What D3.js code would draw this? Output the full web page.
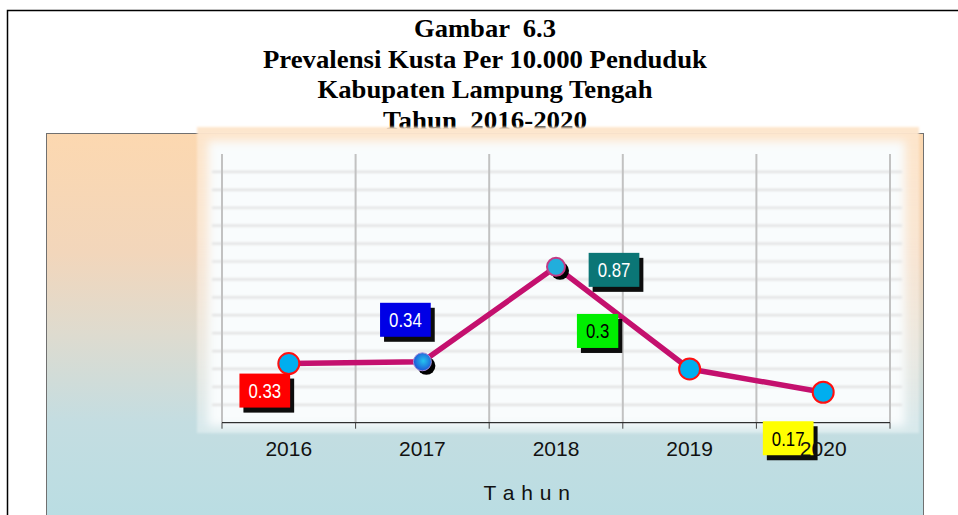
<!DOCTYPE html>
<html>
<head>
<meta charset="utf-8">
<script src="https://cdn.jsdelivr.net/npm/d3@7"></script>
<style>
  html, body { margin: 0; padding: 0; background: #fff; }
  svg { display: block; }
</style>
</head>
<body>
<svg id="chart" width="958" height="515"></svg>
<script>
// Prevalence of leprosy per 10,000 population, Lampung Tengah, 2016-2020
const years = ['2016', '2017', '2018', '2019', '2020'];
const prevalence = [0.33, 0.34, 0.87, 0.30, 0.17];
const valueLabels = ['0.33', '0.34', '0.87', '0.3', '0.17'];
const titleLines = [
  'Gambar  6.3',
  'Prevalensi Kusta Per 10.000 Penduduk',
  'Kabupaten Lampung Tengah',
  'Tahun  2016-2020'
];
const axisTitle = 'T a h u n';

// label box colours and where each box sits relative to its point
const labelFill = ['#ff0000', '#0000e6', '#0b7676', '#00ee00', '#ffff00'];
const labelInk = ['#ffffff', '#ffffff', '#ffffff', '#000000', '#000000'];
const labelShift = [[-24, 27], [-17, -42], [58, 3], [-92, -38], [-35, 46]];
const markerKind = ['plain', 'sphere', 'ringed', 'plain', 'plain'];

const svg = d3.select('#chart');
const defs = svg.append('defs');

const bg = defs.append('linearGradient').attr('id', 'areaFill')
  .attr('x1', 0).attr('y1', 0).attr('x2', 0).attr('y2', 1);
[[0, '#fcd8b0'], [0.3, '#f2d6bb'], [0.5, '#dedbcf'], [0.72, '#c4dde1'], [1, '#b8dde3']]
  .forEach(([o, c]) => bg.append('stop').attr('offset', o).attr('stop-color', c));

const glow = defs.append('linearGradient').attr('id', 'glowFill')
  .attr('x1', 0).attr('y1', 0).attr('x2', 0).attr('y2', 1);
glow.append('stop').attr('offset', 0).attr('stop-color', '#fde5cb').attr('stop-opacity', 0.97);
glow.append('stop').attr('offset', 0.5).attr('stop-color', '#fbefe4').attr('stop-opacity', 0.6);
glow.append('stop').attr('offset', 1).attr('stop-color', '#ffffff').attr('stop-opacity', 0.35);

const sphere = defs.append('radialGradient').attr('id', 'sphereFill')
  .attr('cx', '55%').attr('cy', '45%').attr('r', '60%');
sphere.append('stop').attr('offset', 0).attr('stop-color', '#25c4ee');
sphere.append('stop').attr('offset', 1).attr('stop-color', '#1d4ed6');

function blur(id, sd) {
  defs.append('filter').attr('id', id)
    .attr('x', '-20%').attr('y', '-20%').attr('width', '140%').attr('height', '140%')
    .append('feGaussianBlur').attr('stdDeviation', sd);
}
blur('soft', 5);
blur('glowBlur', 0.8);
blur('gridBlur', 1.1);
blur('shadowBlur', 0.6);

// outer frame
svg.append('path')
  .attr('d', 'M7.5,515V10.5H958')
  .attr('fill', 'none').attr('stroke', '#000').attr('stroke-width', 1.5);

// title
const titleWidths = [142, 444, 335, 204];
svg.append('g').selectAll('text').data(titleLines).join('text')
  .attr('x', 485)
  .attr('y', (d, i) => 37 + i * 30.5)
  .attr('text-anchor', 'middle')
  .attr('font-family', '"Liberation Serif", "Times New Roman", serif')
  .attr('font-weight', 'bold')
  .attr('font-size', 26)
  .style('white-space', 'pre')
  .attr('xml:space', 'preserve')
  .attr('textLength', (d, i) => titleWidths[i])
  .attr('lengthAdjust', 'spacingAndGlyphs')
  .text(d => d);

// chart area
svg.append('rect')
  .attr('x', 46.5).attr('y', 133.5).attr('width', 877).attr('height', 400)
  .attr('fill', 'url(#areaFill)').attr('stroke', '#707070').attr('stroke-width', 1);

svg.append('rect')
  .attr('x', 197).attr('y', 127).attr('width', 722).attr('height', 306)
  .attr('fill', 'url(#glowFill)').attr('filter', 'url(#glowBlur)');

svg.append('rect')
  .attr('x', 208).attr('y', 141).attr('width', 697).attr('height', 285)
  .attr('fill', '#f9fcfd').attr('filter', 'url(#soft)');

// scales
const x = d3.scaleBand().domain(years).range([222, 890]).padding(0);
const y = d3.scaleLinear().domain([0, 1.5]).range([422.7, 154]);
const cx = d => x(d) + x.bandwidth() / 2;

// horizontal grid
svg.append('g').attr('filter', 'url(#gridBlur)')
  .selectAll('line').data(y.ticks(15).filter(v => v > 0 && v < 1.5)).join('line')
  .attr('x1', 212).attr('x2', 902)
  .attr('y1', d => y(d)).attr('y2', d => y(d))
  .attr('stroke', '#e1e1e1').attr('stroke-width', 2.2);

// vertical grid at category boundaries
const bounds = years.map(d => x(d)).concat([x.range()[1]]);
svg.append('g').selectAll('line').data(bounds).join('line')
  .attr('x1', d => d).attr('x2', d => d)
  .attr('y1', y(1.5)).attr('y2', y(0))
  .attr('stroke', '#c2c2c2').attr('stroke-width', 2);

// x axis line and boundary ticks
svg.append('line')
  .attr('x1', x.range()[0]).attr('x2', x.range()[1])
  .attr('y1', y(0)).attr('y2', y(0))
  .attr('stroke', '#000').attr('stroke-width', 1);
svg.append('g').selectAll('line').data(bounds).join('line')
  .attr('x1', d => d).attr('x2', d => d)
  .attr('y1', y(0)).attr('y2', y(0) + 6)
  .attr('stroke', '#444').attr('stroke-width', 1);

// series line
const pts = years.map((d, i) => [cx(d), y(prevalence[i])]);
svg.append('path')
  .attr('d', d3.line()(pts))
  .attr('fill', 'none').attr('stroke', '#c4106e').attr('stroke-width', 5.5)
  .attr('stroke-linejoin', 'round');

// markers
const mk = svg.append('g');
pts.forEach(([px, py], i) => {
  const kind = markerKind[i];
  if (kind === 'plain') {
    mk.append('circle').attr('cx', px).attr('cy', py).attr('r', 10.5)
      .attr('fill', '#00aeef').attr('stroke', '#ff1010').attr('stroke-width', 2);
  } else {
    mk.append('circle').attr('cx', px + 4).attr('cy', py + 4).attr('r', 9)
      .attr('fill', '#000');
    mk.append('circle').attr('cx', px).attr('cy', py).attr('r', 9)
      .attr('fill', kind === 'sphere' ? 'url(#sphereFill)' : '#22aedc')
      .attr('stroke', kind === 'sphere' ? '#a38cd8' : '#c23b86')
      .attr('stroke-width', kind === 'sphere' ? 1 : 2);
  }
});

// value label boxes
const lb = svg.append('g');
pts.forEach(([px, py], i) => {
  const bx = px + labelShift[i][0];
  const by = py + labelShift[i][1];
  const g = lb.append('g');
  const t = g.append('text')
    .attr('font-family', '"Liberation Sans", Arial, sans-serif')
    .attr('font-size', 21)
    .attr('fill', labelInk[i])
    .attr('text-anchor', 'middle')
    .attr('x', bx).attr('y', by + 7.5)
    .text(valueLabels[i]);
  const natural = t.node().getComputedTextLength();
  const tw = natural * 0.8;
  t.attr('textLength', tw).attr('lengthAdjust', 'spacingAndGlyphs');
  const w = tw + 18, h = 34;
  g.insert('rect', 'text')
    .attr('x', bx - w / 2 + 4).attr('y', by - h / 2 + 5)
    .attr('width', w).attr('height', h)
    .attr('fill', '#0a0a0a').attr('filter', 'url(#shadowBlur)');
  g.insert('rect', 'text')
    .attr('x', bx - w / 2).attr('y', by - h / 2)
    .attr('width', w).attr('height', h)
    .attr('fill', labelFill[i]);
});

// category labels
const ax = svg.append('g')
  .attr('transform', `translate(0,${y(0)})`)
  .call(d3.axisBottom(x).tickSize(0).tickPadding(18));
ax.select('.domain').remove();
ax.selectAll('text')
  .attr('font-family', '"Liberation Sans", Arial, sans-serif')
  .attr('font-size', 21)
  .attr('fill', '#111');

// axis title
svg.append('text')
  .attr('x', 527).attr('y', 500)
  .attr('text-anchor', 'middle')
  .attr('font-family', '"Liberation Sans", Arial, sans-serif')
  .attr('font-size', 21)
  .attr('letter-spacing', 0.5)
  .attr('fill', '#111')
  .text(axisTitle);
</script>
</body>
</html>
